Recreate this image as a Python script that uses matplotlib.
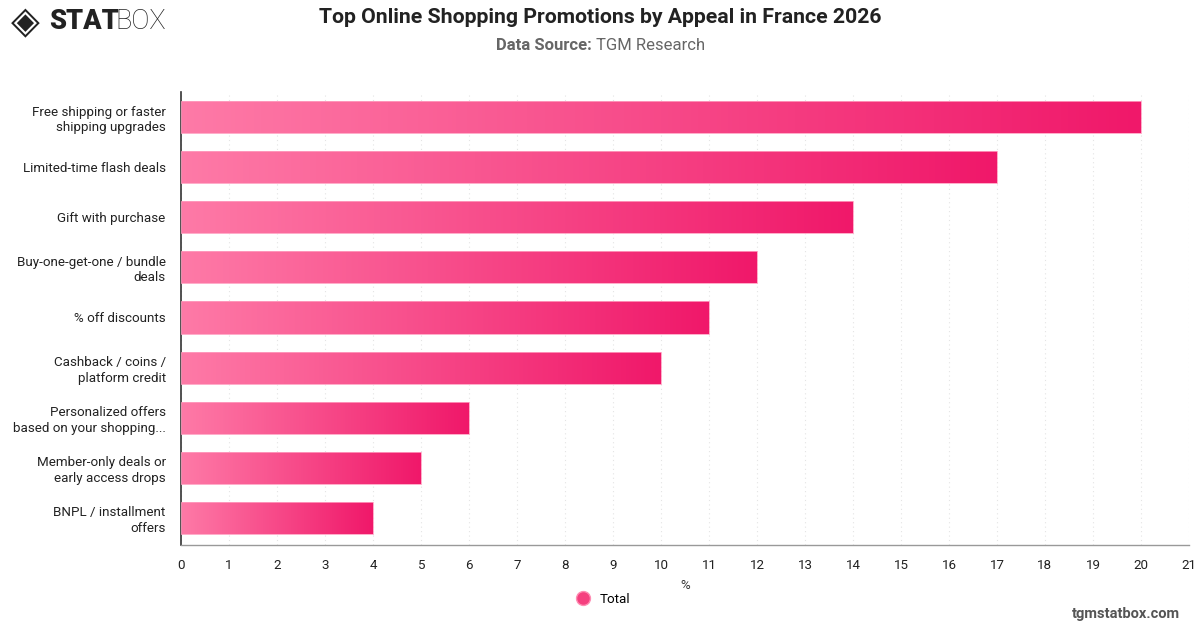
import numpy as np
import matplotlib.pyplot as plt
from matplotlib.colors import LinearSegmentedColormap
from matplotlib.lines import Line2D

plt.rcParams['font.family'] = ['Roboto', 'DejaVu Sans']

categories = [
    "Free shipping or faster\nshipping upgrades",
    "Limited-time flash deals",
    "Gift with purchase",
    "Buy-one-get-one / bundle\ndeals",
    "% off discounts",
    "Cashback / coins /\nplatform credit",
    "Personalized offers\nbased on your shopping...",
    "Member-only deals or\nearly access drops",
    "BNPL / installment\noffers",
]
values = [20, 17, 14, 12, 11, 10, 6, 5, 4]
xticks = list(range(0, 22))

cmap = LinearSegmentedColormap.from_list("pinks", ["#fe7aa7", "#f0186a"])
grad = np.linspace(0, 1, 256).reshape(1, -1)

fig = plt.figure(figsize=(12, 6.28), dpi=100)
ax = fig.add_axes([0.1508, 0.1322, 0.84, 0.7213])

y = np.arange(len(categories))
bars = ax.barh(y, values, height=0.64, color="none", edgecolor="#ff9fc0", linewidth=0.6, zorder=3)
for b in bars:
    x0, y0 = b.get_x(), b.get_y()
    w, h = b.get_width(), b.get_height()
    im = ax.imshow(grad, cmap=cmap, aspect="auto", extent=[x0, x0 + w, y0 + h, y0],
                   interpolation="bicubic", zorder=2)
    im.set_clip_path(b)

ax.set_xlim(0, 21)
ax.set_ylim(len(categories) - 0.5 + 0.04, -0.5)
ax.set_yticks(y)
ax.set_yticklabels(categories, fontsize=9.6, color="#222222", linespacing=1.25)
ax.set_xticks(xticks)
ax.set_xticklabels([str(t) for t in xticks], fontsize=9.6, color="#222222")
ax.tick_params(axis="both", length=0)
ax.tick_params(axis="x", pad=10)
ax.tick_params(axis="y", pad=11)
ax.grid(axis="x", color="#e4e4e4", linestyle=(0, (1, 3)), linewidth=0.8, zorder=0)
ax.set_axisbelow(True)
for s in ["top", "right"]:
    ax.spines[s].set_visible(False)
ax.spines["left"].set_color("#333333")
ax.spines["left"].set_linewidth(1.2)
ax.spines["bottom"].set_color("#999999")
ax.spines["bottom"].set_linewidth(1.0)

ax.set_xlabel("%", fontsize=9.5, color="#333333", labelpad=5)

handle = Line2D([], [], marker="o", linestyle="none", markersize=10,
                markerfacecolor="#f5407f", markeredgecolor="#ff8db3")
fig.legend([handle], ["Total"], loc="center", bbox_to_anchor=(0.5, 0.046),
           frameon=False, fontsize=9.6, handletextpad=0.3)

# title block
fig.text(0.5, 0.972, "Top Online Shopping Promotions by Appeal in France 2026",
         ha="center", va="center", fontsize=15.3, fontweight="bold", color="#222222")
fig.text(0.4935, 0.928, "Data Source:", ha="right", va="center", fontsize=12,
         fontweight="bold", color="#666666")
fig.text(0.4965, 0.928, "TGM Research", ha="left", va="center", fontsize=12, color="#666666")

# logo
fig.text(0.009, 0.963, "\u25C8", ha="left", va="center", fontsize=27, color="#222222",
         family="DejaVu Sans")
fig.text(0.041, 0.965, "STAT", ha="left", va="center", fontsize=19.5, fontweight="black",
         color="#222222")
fig.text(0.0965, 0.965, "BOX", ha="left", va="center", fontsize=19.5, fontweight="light",
         color="#222222")

fig.text(0.983, 0.022, "tgmstatbox.com", ha="right", va="center", fontsize=10.5,
         fontweight="bold", color="#555555")

fig.savefig("out.png", dpi=100)
